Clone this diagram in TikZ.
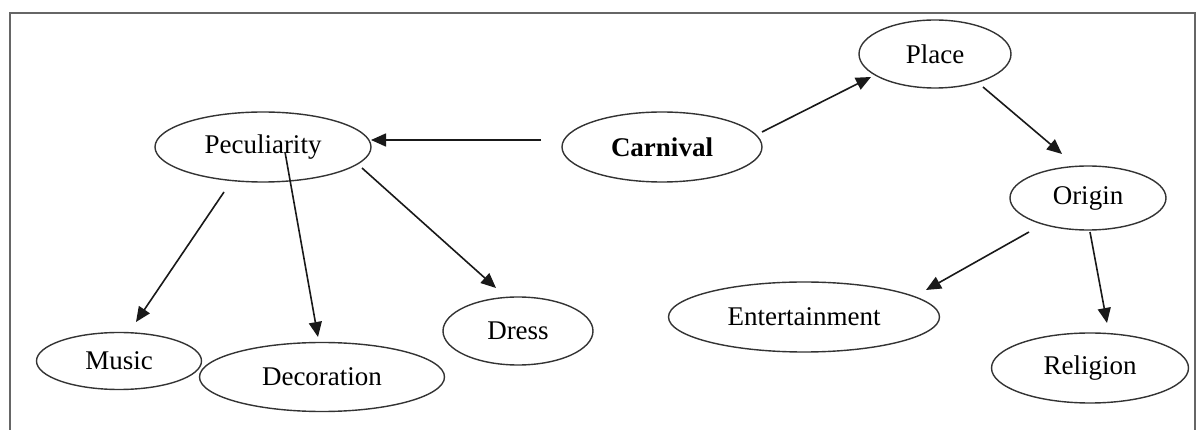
\documentclass[tikz,border=0pt]{standalone}
\usepackage{fontspec}
\setmainfont{Liberation Serif}
\usetikzlibrary{shapes,arrows.meta,calc}

\begin{document}
\begin{tikzpicture}[x=1pt,y=-1pt,
	bub/.style={ellipse,draw=black!80,line width=1.4pt,inner sep=0pt,outer sep=0pt,font=\fontsize{27}{32}\selectfont},
	arr/.style={-{Triangle[length=15pt,width=13pt]},line width=1.6pt,draw=black!90}]
\useasboundingbox (0,0) rectangle (1203,430);
\draw[black!60,line width=2.5pt] (10,13) rectangle (1195,445);

\node [bub,minimum width=216pt,minimum height=70pt] (pec) at (263,147) {Peculiarity};
\node [bub,minimum width=200pt,minimum height=70pt,font=\fontsize{27}{32}\selectfont\bfseries] (carn) at (662,147) {Carnival};
\node [bub,minimum width=152pt,minimum height=68pt] (place) at (935,54) {Place};
\node [bub,minimum width=156pt,minimum height=64pt] (orig) at (1088,198) {Origin};
\node [bub,minimum width=271pt,minimum height=70pt] (ent) at (804,317) {Entertainment};
\node [bub,minimum width=197pt,minimum height=70pt] (rel) at (1090,368) {Religion};
\node [bub,minimum width=165pt,minimum height=57pt] (music) at (119,361) {Music};
\node [bub,minimum width=245pt,minimum height=69pt] (deco) at (322,377) {Decoration};
\node [bub,minimum width=150pt,minimum height=68pt] (dress) at (518,331) {Dress};

% left branch
\draw[arr] ($(carn)+(-121,-7)$) -- ($(pec)+(108,-7)$);
\draw[arr] ($(pec)+(-39,45)$) -- ($(music)+(17,-39)$);
\draw[arr] ($(pec)+(22,5)$) -- ($(deco)+(-4,-40)$);
\draw[arr] ($(pec)+(99,21)$) -- ($(dress)+(-22,-43)$);

% right branch
\draw[arr] ($(carn)+(100,-15)$) -- ($(place)+(-64,23)$);
\draw[arr] ($(place)+(48,33)$) -- ($(orig)+(-26,-44)$);
\draw[arr] ($(orig)+(-59,34)$) -- ($(ent)+(122,-27)$);
\draw[arr] ($(orig)+(2,34)$) -- ($(rel)+(17,-45)$);
\end{tikzpicture}
\end{document}
